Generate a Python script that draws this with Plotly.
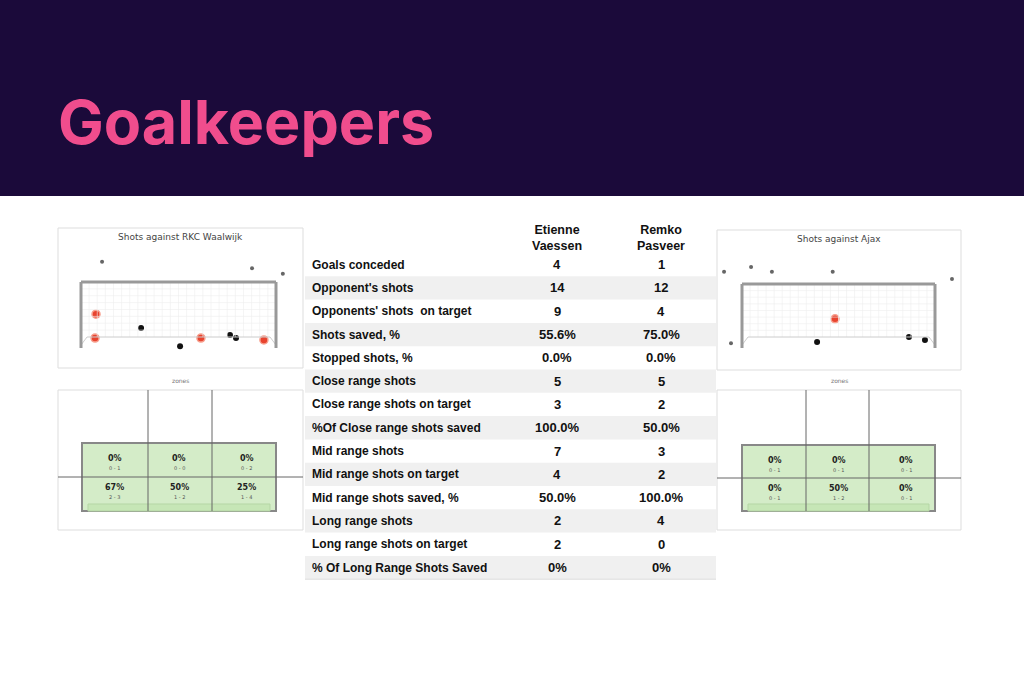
import plotly.graph_objects as go

W, H = 1024, 683
title = "Goalkeepers"
players = ["Etienne<br>Vaessen", "Remko<br>Pasveer"]
metrics = ["Goals conceded", "Opponent's shots", "Opponents' shots  on target", "Shots saved, %",
           "Stopped shots, %", "Close range shots", "Close range shots on target",
           "%Of Close range shots saved", "Mid range shots", "Mid range shots on target",
           "Mid range shots saved, %", "Long range shots", "Long range shots on target",
           "% Of Long Range Shots Saved"]
vaessen = ["4", "14", "9", "55.6%", "0.0%", "5", "3", "100.0%", "7", "4", "50.0%", "2", "2", "0%"]
pasveer = ["1", "12", "4", "75.0%", "0.0%", "5", "2", "50.0%", "3", "2", "100.0%", "4", "0", "0%"]

# shots in goal units (0..1 across, 0..1 up)
L_goal_x = [0.077, 0.072, 0.615, 0.938]; L_goal_y = [0.49, 0.11, 0.11, 0.08]
L_save_x = [0.308, 0.508, 0.764, 0.795]; L_save_y = [0.27, -0.02, 0.16, 0.11]
L_off_x = [0.108, 0.877, 1.035]; L_off_y = [1.32, 1.22, 1.13]
R_goal_x = [0.482]; R_goal_y = [0.43]
R_save_x = [0.389, 0.865, 0.948]; R_save_y = [0.05, 0.13, 0.08]
R_off_x = [-0.093, 0.047, 0.155, 0.47, 1.088, -0.057]; R_off_y = [1.20, 1.28, 1.20, 1.20, 1.08, 0.03]

L_zone_pct = ["0%", "0%", "0%", "67%", "50%", "25%"]
L_zone_cnt = ["0 - 1", "0 - 0", "0 - 2", "2 - 3", "1 - 2", "1 - 4"]
R_zone_pct = ["0%", "0%", "0%", "0%", "50%", "0%"]
R_zone_cnt = ["0 - 1", "0 - 1", "0 - 1", "0 - 1", "1 - 2", "0 - 1"]

fig = go.Figure()
shapes, ann = [], []
FONT = "Liberation Sans"

shapes.append(dict(type="rect", xref="paper", yref="paper", x0=0, x1=1, y0=1 - 196 / H, y1=1,
                   fillcolor="#1b0a3a", line_width=0, layer="below"))
ann.append(dict(text="<b>" + title + "</b>", xref="paper", yref="paper", x=56 / W, y=1 - 122 / H,
                xanchor="left", yanchor="middle", showarrow=False,
                font=dict(family="Inter", size=61, color="#f04d8d")))

def px(x): return x / W
def py(y): return 1 - y / H

def rect(x0, y0, x1, y1, **kw):
    shapes.append(dict(type="rect", xref="paper", yref="paper", x0=px(x0), x1=px(x1),
                       y0=py(y1), y1=py(y0), **kw))

def line(x0, y0, x1, y1, color, width):
    shapes.append(dict(type="line", xref="paper", yref="paper", x0=px(x0), x1=px(x1),
                       y0=py(y0), y1=py(y1), line=dict(color=color, width=width)))

def text(s, x, y, size, color="#222", bold=False, anchor="center", fam=FONT):
    ann.append(dict(text=("<b>%s</b>" % s) if bold else s, xref="paper", yref="paper",
                    x=px(x), y=py(y), xanchor=anchor, yanchor="middle", showarrow=False,
                    font=dict(family=fam, size=size, color=color)))

panels = [
    dict(box=(58, 228, 303, 368), goal=(81, 282, 276, 345), title="Shots against RKC Waalwijk",
         zbox=(58, 390, 303, 530), zv=(148, 212), zg=(82, 443, 276, 511), zh=477,
         gx=L_goal_x, gy=L_goal_y, sx=L_save_x, sy=L_save_y, ox=L_off_x, oy=L_off_y,
         zp=L_zone_pct, zc=L_zone_cnt),
    dict(box=(717, 230, 961, 370), goal=(742, 284, 935, 345), title="Shots against Ajax",
         zbox=(717, 390, 961, 530), zv=(806, 869), zg=(742, 445, 935, 511), zh=478,
         gx=R_goal_x, gy=R_goal_y, sx=R_save_x, sy=R_save_y, ox=R_off_x, oy=R_off_y,
         zp=R_zone_pct, zc=R_zone_cnt),
]

for i, p in enumerate(panels):
    bx0, by0, bx1, by1 = p["box"]
    rect(bx0, by0, bx1, by1, line=dict(color="#dddddd", width=1), fillcolor="white", layer="below")
    text(p["title"], (bx0 + bx1) / 2, by0 + 9, 9, color="#444", fam="DejaVu Sans")
    gx0, gy0, gx1, gy1 = p["goal"]
    for k in range(1, 24):
        xx = gx0 + (gx1 - gx0) * k / 24
        line(xx, gy0, xx, gy1 - 8, "#eeeeee", 0.6)
    for k in range(1, 8):
        yy = gy0 + (gy1 - 8 - gy0) * k / 8
        line(gx0, yy, gx1, yy, "#eeeeee", 0.6)
    line(gx0 + 6, gy1 - 8, gx1 - 6, gy1 - 8, "#cccccc", 1)
    line(gx0, gy1, gx0 + 6, gy1 - 8, "#cccccc", 1)
    line(gx1, gy1, gx1 - 6, gy1 - 8, "#cccccc", 1)
    line(gx0, gy1 + 3, gx0, gy0, "#999999", 3)
    line(gx0, gy0, gx1, gy0, "#999999", 3)
    line(gx1, gy0, gx1, gy1 + 3, "#999999", 3)
    n = str(i + 2)
    gw, gh = gx1 - gx0, gy1 - gy0
    fig.update_layout(**{
        "xaxis" + n: dict(domain=[px(bx0), px(bx1)], range=[(bx0 - gx0) / gw, (bx1 - gx0) / gw],
                          visible=False, fixedrange=True, anchor="y" + n),
        "yaxis" + n: dict(domain=[py(by1), py(by0)], range=[(gy1 - by1) / gh, (gy1 - by0) / gh],
                          visible=False, fixedrange=True, anchor="x" + n),
    })
    ax, ay = "x" + n, "y" + n
    fig.add_trace(go.Scatter(x=p["ox"], y=p["oy"], mode="markers", xaxis=ax, yaxis=ay,
                             marker=dict(size=4, color="#666"), showlegend=False))
    fig.add_trace(go.Scatter(x=p["sx"], y=p["sy"], mode="markers", xaxis=ax, yaxis=ay,
                             marker=dict(size=6, color="#111"), showlegend=False))
    fig.add_trace(go.Scatter(x=p["gx"], y=p["gy"], mode="markers", xaxis=ax, yaxis=ay,
                             marker=dict(size=8, color="#e8432e", line=dict(color="#f7a08f", width=1.5)),
                             showlegend=False))
    text("zones", (bx0 + bx1) / 2, 380, 6, color="#777", fam="DejaVu Sans")
    zx0, zy0, zx1, zy1 = p["zbox"]
    rect(zx0, zy0, zx1, zy1, line=dict(color="#dddddd", width=1), fillcolor="white", layer="below")
    qx0, qy0, qx1, qy1 = p["zg"]
    rect(qx0, qy0, qx1, qy1, line=dict(color="#888", width=2), fillcolor="#d4ecc8")
    rect(qx0 + 6, qy1 - 7, qx1 - 6, qy1, line=dict(color="#b5d6a5", width=1), fillcolor="#c6e6b6")
    for vx in p["zv"]:
        line(vx, zy0, vx, qy1, "#666", 1)
    line(zx0, p["zh"], zx1, p["zh"], "#666", 1)
    cols = [qx0 + (qx1 - qx0) * f for f in (0.17, 0.5, 0.85)]
    for j in range(6):
        cx = cols[j % 3]
        base = qy0 + 15 if j < 3 else p["zh"] + 10
        text(p["zp"][j], cx, base, 8, color="#222", bold=True, fam="DejaVu Sans")
        text(p["zc"][j], cx, base + 10, 5, color="#555", fam="DejaVu Sans")

tx0, tx1 = 305, 716
row_top, row_h = 253, 23.3
colx = [557, 661]
for k, name in enumerate(players):
    text(name, colx[k], 238, 12.5, color="#111", bold=True)
for r, m in enumerate(metrics):
    y0 = row_top + r * row_h
    if r % 2 == 1:
        rect(tx0, y0, tx1, y0 + row_h, line_width=0, fillcolor="#f0f0f0", layer="below")
    text(m, 310, y0 + row_h / 2, 12, color="#111", bold=True, anchor="left")
    text(vaessen[r], colx[0], y0 + row_h / 2, 13, color="#111", bold=True)
    text(pasveer[r], colx[1], y0 + row_h / 2, 13, color="#111", bold=True)
line(tx0, row_top + len(metrics) * row_h, tx1, row_top + len(metrics) * row_h, "#dddddd", 1)

fig.update_layout(width=W, height=H, margin=dict(l=0, r=0, t=0, b=0),
                  paper_bgcolor="white", plot_bgcolor="rgba(0,0,0,0)",
                  xaxis=dict(visible=False), yaxis=dict(visible=False),
                  shapes=shapes, annotations=ann, showlegend=False)
fig.write_html("out.html", config={"displayModeBar": False},
               post_script="document.body.style.margin='0';document.body.style.overflow='hidden';")
